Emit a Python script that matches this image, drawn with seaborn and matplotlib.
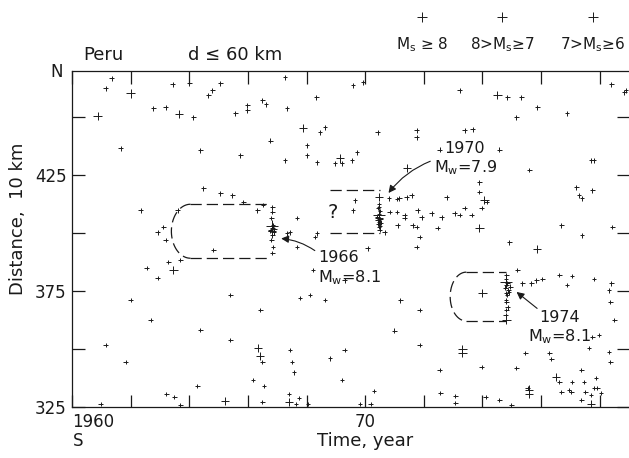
import numpy as np
import pandas as pd
import matplotlib
matplotlib.use("Agg")
import matplotlib.pyplot as plt
import seaborn as sns

# ---------------- data (time in years, distance in units of 10 km) ----------------
small_t = [1961.35, 1963.43, 1964.00, 1964.79, 1965.06, 1964.65, 1967.27, 1968.33, 1961.15, 1962.78,
           1963.19, 1964.14, 1965.57, 1965.98, 1965.98, 1966.49, 1966.62, 1967.34, 1969.58, 1969.92,
           1973.22, 1974.85, 1975.33, 1975.87, 1975.16, 1976.89, 1978.40, 1978.90,
           # 1970 region
           1970.81, 1971.08, 1971.17, 1971.42, 1971.59, 1970.84, 1971.08, 1971.35, 1971.35, 1971.11,
           1971.62, 1971.76, 1971.79, 1971.93, 1972.27, 1972.61, 1973.05, 1973.22, 1973.39, 1973.63,
           1973.97, 1974.14, 1973.90, 1973.90, 1972.78, 1972.47, 1971.86, 1971.76, 1970.67, 1970.09,
           1969.58, 1969.65, 1969.55, 1969.72, 1968.97, 1969.21, 1968.02, 1968.02, 1968.36, 1968.46,
           1968.63, 1970.43, 1971.76, 1971.76, 1973.39, 1973.67, 1968.29,
           # 1966 region
           1965.06, 1965.47, 1965.84, 1966.32, 1966.52, 1967.68, 1967.34, 1967.44, 1967.68, 1968.36,
           1962.92, 1963.19, 1963.12, 1963.60, 1963.29, 1963.70, 1962.92, 1964.82, 1968.22, 1967.78,
           1968.12, 1964.48,
           # 1974 region
           1974.92, 1975.19, 1975.36, 1975.67, 1975.84, 1976.04, 1976.62, 1976.89, 1977.06, 1977.81,
           1978.40, 1978.36, 1975.46, 1976.28, 1976.35, 1977.64, 1978.36, 1977.98, 1973.97, 1975.16,
           1977.37, 1975.54, 1976.96, 1977.81,
           # bottom strip
           1960.98, 1963.22, 1963.49, 1963.70, 1964.28, 1966.18, 1966.49, 1966.55, 1967.40, 1967.74,
           1967.64, 1968.05, 1969.21, 1969.82, 1970.19, 1970.30, 1972.57, 1973.08, 1973.08, 1974.11,
           1974.58, 1974.99, 1976.69, 1977.03, 1977.51, 1977.92, 1977.37,
           # right edge
           1978.84, 1977.71, 1977.81, 1977.20, 1977.75, 1977.30, 1977.40, 1976.69, 1977.40, 1978.43,
           1978.32, 1978.50, 1977.75, 1978.32, 1976.62, 1977.06, 1977.47, 1977.88, 1977.71, 1978.05,
           # scattered interior
           1961.66, 1962.34, 1962.55, 1962.00, 1962.68, 1961.15, 1961.83, 1964.38, 1965.40, 1966.49,
           1967.44, 1967.50, 1967.57, 1968.80, 1969.30, 1971.00, 1971.86, 1972.54, 1966.42, 1965.40,
           1968.63, 1969.30, 1971.20, 1971.86, 1964.38, 1965.74, 1966.77, 1967.27, 1972.54, 1974.58,
           1975.60,
           # aftershock clusters
           1966.83, 1966.83, 1966.80, 1966.86, 1966.83, 1966.78, 1966.88, 1966.83, 1966.80, 1966.86,
           1966.83, 1966.90, 1966.76,
           1970.47, 1970.44, 1970.50, 1970.47, 1970.42, 1970.52, 1970.47, 1970.45, 1970.50, 1970.47,
           1970.43, 1970.53, 1970.47, 1970.49,
           1974.82, 1974.80, 1974.85, 1974.82, 1974.78, 1974.88, 1974.82, 1974.84, 1974.80, 1974.82,
           1974.86, 1974.82, 1974.79, 1974.95, 1974.90]
small_d = [466.8, 464.2, 464.7, 461.6, 464.7, 459.5, 467.2, 458.6, 462.5, 453.9,
           454.3, 450.0, 451.7, 455.2, 453.0, 457.3, 455.6, 453.9, 463.8, 465.1,
           461.6, 458.6, 458.6, 454.3, 450.0, 451.7, 464.2, 461.6,
           415.1, 414.7, 415.1, 415.5, 416.4, 409.1, 409.1, 407.8, 406.5, 403.4,
           403.4, 402.6, 409.9, 406.9, 408.6, 406.9, 408.6, 407.8, 410.8, 407.8,
           410.8, 413.4, 417.7, 422.0, 415.5, 402.2, 398.3, 394.0, 400.4, 393.5,
           409.9, 414.2, 431.5, 434.9, 430.2, 430.2, 437.9, 433.6, 430.6, 443.5,
           445.7, 443.5, 444.4, 441.4, 444.4, 444.8, 398.3,
           417.2, 416.4, 413.4, 409.9, 412.1, 406.5, 400.0, 400.4, 394.0, 400.0,
           400.4, 397.0, 402.6, 409.9, 387.5, 388.4, 380.6, 392.7, 384.1, 372.0,
           373.3, 419.4,
           396.1, 384.1, 378.4, 378.4, 379.7, 380.2, 381.9, 377.6, 381.5, 380.2,
           378.4, 370.3, 348.3, 348.3, 345.7, 350.4, 344.4, 356.0, 342.2, 341.8,
           341.0, 333.2, 332.3, 333.2,
           326.3, 330.6, 329.3, 325.8, 334.1, 336.6, 327.2, 334.1, 330.6, 328.9,
           326.3, 326.3, 336.6, 326.3, 326.3, 331.9, 331.0, 329.7, 326.7, 329.3,
           328.0, 325.9, 331.5, 331.5, 331.5, 333.2, 328.0,
           460.8, 431.5, 431.5, 419.8, 418.5, 416.4, 415.1, 403.4, 399.1, 402.6,
           375.4, 362.5, 355.2, 348.7, 335.8, 335.8, 335.8, 337.5, 330.2, 331.0,
           436.6, 409.9, 385.0, 371.1, 362.5, 351.7, 344.4, 358.2, 353.9, 344.4,
           349.6, 344.4, 340.0, 346.0, 349.6, 358.0, 351.7, 341.0, 366.8, 373.3,
           371.1, 379.7, 371.0, 366.8, 435.8, 433.6, 440.0, 431.5, 436.0, 436.0,
           427.2,
           411.2, 409.1, 406.5, 403.4, 402.2, 401.3, 400.4, 399.1, 397.0, 394.0,
           391.4, 401.8, 400.9,
           412.5, 410.8, 409.5, 408.2, 407.0, 406.0, 405.0, 404.0, 403.0, 411.5,
           405.5, 404.5, 402.8, 401.5,
           381.9, 380.2, 378.4, 377.6, 376.5, 375.4, 374.1, 373.3, 371.1, 370.3,
           368.0, 366.8, 364.7, 377.0, 374.5]

med_t = [1962.00, 1960.87, 1963.66, 1974.51, 1970.47, 1974.07, 1973.90, 1969.14, 1967.88, 1971.42,
         1963.46, 1975.87, 1974.00, 1973.32, 1973.32, 1976.52, 1965.23, 1967.40, 1975.60, 1975.60,
         1977.71, 1966.35, 1966.42, 1966.83, 1974.82, 1970.47]
med_d = [460.3, 450.5, 451.3, 459.5, 415.5, 414.2, 402.2, 432.3, 445.3, 428.0,
         384.1, 393.1, 374.1, 348.3, 350.0, 337.9, 327.5, 327.2, 330.6, 332.5,
         326.3, 350.4, 347.0, 401.0, 362.5, 406.5]

big_t = [1966.83, 1970.47, 1974.82]
big_d = [403.0, 408.0, 379.0]

size_labels = ["Ms>=8", "8>Ms>=7", "7>Ms>=6"]

# rupture-zone outlines (year, distance)
box66_t = [1964.04, 1966.69, 1966.69, 1964.04]
box66_d = [412.5, 412.5, 389.2, 389.2]
box70_t = [1968.80, 1970.50]
box70_d = [418.5, 400.0]
box74_t = [1973.45, 1974.82, 1974.82, 1973.45]
box74_d = [383.2, 383.2, 362.1, 362.1]

x_ticks = [1960, 1962, 1964, 1966, 1968, 1970, 1972, 1974, 1976, 1978]
x_ticklabels = ["1960", "", "", "", "", "70", "", "", "", ""]
y_ticks = [325, 350, 375, 400, 425, 450]
y_ticklabels = ["325", "", "375", "", "425", ""]

# ---------------- build dataframe ----------------
df = pd.DataFrame({
    "time": small_t + med_t + big_t,
    "dist": small_d + med_d + big_d,
    "mag": [size_labels[2]] * len(small_t) + [size_labels[1]] * len(med_t) + [size_labels[0]] * len(big_t),
})

sns.set_style("ticks")
plt.rcParams["font.family"] = ["DejaVu Sans"]
plt.rcParams["axes.linewidth"] = 0.9
ink = "#1a1a1a"

fig = plt.figure(figsize=(6.29, 4.58), dpi=100)
ax = fig.add_axes([72 / 629, 1 - 407 / 458, 1 - 72 / 629, (407 - 71) / 458])

sns.scatterplot(data=df, x="time", y="dist", size="mag",
                sizes={size_labels[0]: 75, size_labels[1]: 36, size_labels[2]: 11},
                marker="+", color=ink, linewidth=0.7, legend=False, ax=ax)

ax.set_xlim(1960, 1979)
ax.set_ylim(325, 470)

dash = dict(color=ink, lw=0.9, dashes=(9, 4))
# 1966 outline with rounded left end
ang = np.linspace(np.pi / 2, 3 * np.pi / 2, 40)
c66 = (box66_d[0] + box66_d[2]) / 2
r66 = (box66_d[0] - box66_d[2]) / 2
ax.plot([box66_t[0], box66_t[1]], [box66_d[0]] * 2, **dash)
ax.plot(box66_t[0] + 0.65 * np.cos(ang), c66 + r66 * np.sin(ang), **dash)
ax.plot([box66_t[3], box66_t[2]], [box66_d[3]] * 2, **dash)
# 1970 open outline
ax.plot(box70_t, [box70_d[0]] * 2, **dash)
ax.plot(box70_t, [box70_d[1]] * 2, **dash)
# 1974 outline with rounded left end
c74 = (box74_d[0] + box74_d[2]) / 2
r74 = (box74_d[0] - box74_d[2]) / 2
ax.plot([box74_t[0], box74_t[1]], [box74_d[0]] * 2, **dash)
ax.plot(box74_t[0] + 0.55 * np.cos(ang), c74 + r74 * np.sin(ang), **dash)
ax.plot([box74_t[3], box74_t[2]], [box74_d[3]] * 2, **dash)

fs = 11.5
ax.text(1968.88, 409.0, "?", fontsize=14, ha="center", va="center", color=ink)

arrow = dict(arrowstyle="-|>", color=ink, lw=0.8, mutation_scale=11)
ax.annotate("", xy=(1967.04, 397.8), xytext=(1968.36, 391.8),
            arrowprops=dict(connectionstyle="arc3,rad=0.15", **arrow))
ax.text(1968.40, 389.7, "1966", fontsize=fs, ha="left", va="center", color=ink)
ax.text(1968.40, 381.0, "M$_\\mathregular{w}$=8.1", fontsize=fs, ha="left", va="center", color=ink)

ax.annotate("", xy=(1970.74, 416.4), xytext=(1972.31, 431.5),
            arrowprops=dict(connectionstyle="arc3,rad=0.15", **arrow))
ax.text(1973.38, 436.6, "1970", fontsize=fs, ha="center", va="center", color=ink)
ax.text(1973.43, 428.4, "M$_\\mathregular{w}$=7.9", fontsize=fs, ha="center", va="center", color=ink)

ax.annotate("", xy=(1975.09, 375.4), xytext=(1975.94, 366.8),
            arrowprops=dict(connectionstyle="arc3,rad=0", **arrow))
ax.text(1976.62, 363.8, "1974", fontsize=fs, ha="center", va="center", color=ink)
ax.text(1976.62, 355.2, "M$_\\mathregular{w}$=8.1", fontsize=fs, ha="center", va="center", color=ink)

# ticks
ax.set_xticks(x_ticks)
ax.set_xticklabels(x_ticklabels, fontsize=12, color=ink)
ax.set_yticks(y_ticks)
ax.set_yticklabels(y_ticklabels, fontsize=12, color=ink)
ax.xaxis.get_majorticklabels()[0].set_ha("left")
ax.tick_params(axis="both", direction="in", length=9, width=0.9, top=True, right=True, pad=4,
               color=ink)
ax.spines["right"].set_visible(False)
for sp in ["left", "top", "bottom"]:
    ax.spines[sp].set_color(ink)

ax.set_xlabel("Time, year", fontsize=13, color=ink)
ax.xaxis.set_label_coords(0.526, -0.075)
ax.set_ylabel("Distance,  10 km", fontsize=13, color=ink)
ax.yaxis.set_label_coords(-0.08, 0.56)

fig.text(57 / 629, 1 - 72 / 458, "N", fontsize=12, ha="center", va="center", color=ink)
fig.text(73 / 629, 1 - 441 / 458, "S", fontsize=12, ha="left", va="center", color=ink)
fig.text(83 / 629, 1 - 55 / 458, "Peru", fontsize=13, ha="left", va="center", color=ink)
fig.text(188 / 629, 1 - 55 / 458, "d \u2264 60 km", fontsize=13, ha="left", va="center", color=ink)

# magnitude key
key_x = [422 / 629, 502 / 629, 593 / 629]
key_txt = ["M$_\\mathregular{s}$ \u2265 8", "8>M$_\\mathregular{s}$\u22657", "7>M$_\\mathregular{s}$\u22656"]
for kx, kt in zip(key_x, key_txt):
    fig.text(kx, 1 - 45 / 458, kt, fontsize=11, ha="center", va="center", color=ink)
ax.scatter(key_x, [1 - 17 / 458] * 3, s=[60, 60, 60], marker="+", color=ink,
           linewidth=0.7, transform=fig.transFigure, clip_on=False)

fig.savefig("out.png", dpi=100)
